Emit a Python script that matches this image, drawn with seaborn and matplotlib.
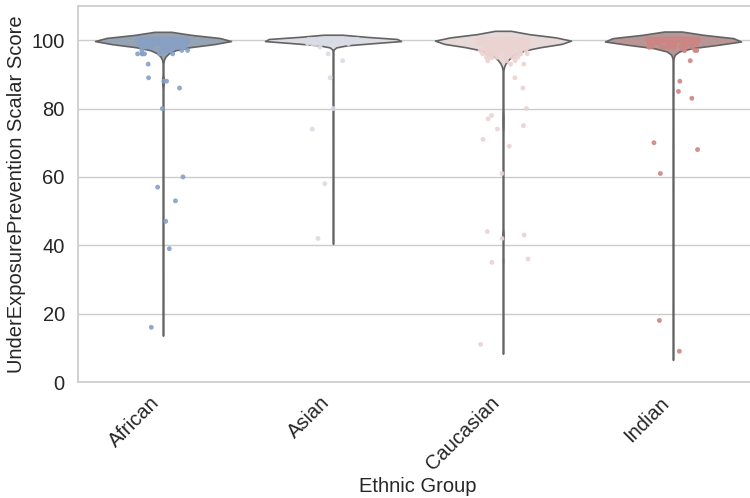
import numpy as np
import pandas as pd
import matplotlib
matplotlib.use("Agg")
import matplotlib.pyplot as plt
import seaborn as sns

# --- data (value, how many points at that value) ---
groups = ["African", "Asian", "Caucasian", "Indian"]

african_values = [100, 99, 98, 97, 96, 93, 89, 88, 86, 80, 60, 57, 53, 47, 39, 16]
african_counts = [250, 30, 20, 10, 6, 1, 1, 2, 1, 1, 1, 1, 1, 1, 1, 1]

asian_values = [100, 99, 98, 96, 94, 89, 80, 74, 58, 42]
asian_counts = [250, 8, 1, 1, 1, 1, 1, 1, 1, 1]

caucasian_values = [100, 99, 98, 97, 96, 95, 94, 93, 89, 86, 80, 78, 77, 75, 74,
                    71, 69, 61, 44, 43, 42, 36, 35, 11]
caucasian_counts = [250, 40, 30, 20, 15, 10, 3, 2, 1, 1, 1, 1, 1, 1, 1,
                    1, 1, 1, 1, 1, 1, 1, 1, 1]

indian_values = [100, 99, 98, 97, 94, 88, 85, 83, 70, 68, 61, 18, 9]
indian_counts = [250, 25, 12, 4, 1, 1, 1, 1, 1, 1, 1, 1, 1]

vals = [african_values, asian_values, caucasian_values, indian_values]
cnts = [african_counts, asian_counts, caucasian_counts, indian_counts]
rows = []
for g, v, c in zip(groups, vals, cnts):
    for score in np.repeat(v, c):
        rows.append((g, score))
df = pd.DataFrame(rows, columns=["Ethnic Group", "UnderExposurePrevention Scalar Score"])

# --- plot ---
sns.set_theme(style="whitegrid")
plt.rcParams["font.family"] = ["Liberation Sans", "DejaVu Sans"]
np.random.seed(3)

fig = plt.figure(figsize=(7.5, 4.98), dpi=100)
ax = fig.add_axes([78 / 750, 116 / 498, 680 / 750, 376 / 498])

sns.violinplot(data=df, x="Ethnic Group", y="UnderExposurePrevention Scalar Score",
               hue="Ethnic Group", palette="vlag", order=groups, inner=None,
               density_norm="width", bw_adjust=0.5, saturation=0.5,
               linewidth=1.2, ax=ax, legend=False)
sns.stripplot(data=df, x="Ethnic Group", y="UnderExposurePrevention Scalar Score",
              hue="Ethnic Group", palette="vlag", order=groups, jitter=0.15,
              size=3.5, alpha=0.9, ax=ax, legend=False)

ax.set_ylim(0, 110)
ax.tick_params(axis="both", labelsize=14.5)
ax.tick_params(axis="x", pad=2)
plt.setp(ax.get_xticklabels(), rotation=45, ha="right")
ax.set_xlabel("Ethnic Group", fontsize=14.5, labelpad=2)
ax.set_ylabel("UnderExposurePrevention Scalar Score", fontsize=14.5)

fig.savefig("out.png", dpi=100)
